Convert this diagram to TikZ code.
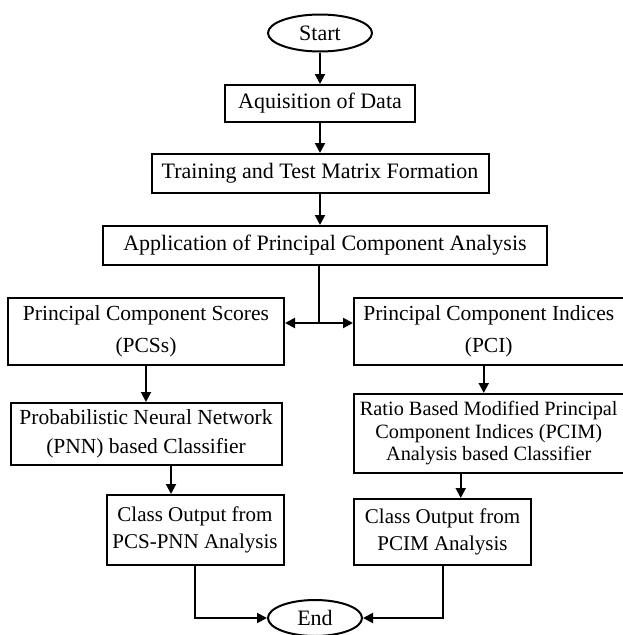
\documentclass[tikz,border=0pt]{standalone}
\usepackage{fontspec}
\setmainfont{Liberation Serif}
\usepackage{tikz}
\usetikzlibrary{shapes.geometric}
\usetikzlibrary{positioning}
\usetikzlibrary{arrows.meta}

\begin{document}
\begin{tikzpicture}[x=1pt, y=-1pt, node distance=30pt, auto,
        line width=2pt, >={Triangle[length=10pt,width=10pt]},
        box/.style={draw, align=center, inner sep=0pt, font=\fontsize{22}{28}\selectfont},
        terminal/.style={draw, ellipse, inner sep=0pt, font=\fontsize{22}{28}\selectfont}]
        \useasboundingbox (0,0) rectangle (623,635);

        \node[terminal, minimum width=104pt, minimum height=37pt] (start) at (320,33) {Start};
        \node[box, minimum width=190pt, minimum height=37pt] (acquisition) [below=31.5pt of start] {Aquisition of Data};
        \node[box, minimum width=337pt, minimum height=39pt] (matrix) [below=30pt of acquisition] {Training and Test Matrix Formation};
        \node[box, minimum width=444pt, minimum height=39pt] (pca) [below=31pt of matrix, xshift=5pt] {Application of Principal Component Analysis};

        \node[box, minimum width=276pt, minimum height=67pt, font=\fontsize{21.5}{28}\selectfont] (scores) [below=31pt of pca, xshift=-179pt] {Principal Component Scores \\[4pt] (PCSs)};
        \node[box, minimum width=269.5pt, minimum height=67pt, font=\fontsize{21.5}{28}\selectfont] (indices) [right=68pt of scores] {Principal Component Indices \\[4pt] (PCI)};

        \node[box, minimum width=271pt, minimum height=62pt, font=\fontsize{21.5}{29}\selectfont] (pnn) [below=36pt of scores] {Probabilistic Neural Network \\ (PNN) based Classifier};
        \node[box, minimum width=269.5pt, minimum height=79pt, font=\fontsize{20.3}{22.5}\selectfont] (pcim) [below=27pt of indices] {Ratio Based Modified Principal \\ Component Indices (PCIM) \\ Analysis based Classifier};

        \node[box, minimum width=177pt, minimum height=70pt, font=\fontsize{21}{27}\selectfont] (out_pnn) [below=28pt of pnn, xshift=49pt] {Class Output from \\ PCS-PNN Analysis};
        \node[box, minimum width=177pt, minimum height=66pt, font=\fontsize{21}{27}\selectfont] (out_pcim) [below=24pt of pcim.south west, anchor=north west] {Class Output from \\ PCIM Analysis};

        \node[terminal, minimum width=94pt, minimum height=36pt] (end) at (315,618) {End};

        \draw[->] (start) -- (acquisition);
        \draw[->] (acquisition) -- (matrix);
        \draw[->] (matrix) -- (matrix |- pca.north);

        \coordinate (split) at (319,323);
        \draw (pca.south -| split) -- (split);
        \draw[->] (split) -- (scores.east |- split);
        \draw[->] (split) -- (indices.west |- split);

        \draw[->] (scores) -- (scores |- pnn.north);
        \draw[->] ([xshift=-5pt]indices.south) -- ([xshift=-5pt]indices.south |- pcim.north);
        \draw[->] ([xshift=25pt]pnn.south) -- ([xshift=25pt]pnn.south |- out_pnn.north);
        \draw[->] ([xshift=-28pt]pcim.south) -- ([xshift=-28pt]pcim.south |- out_pcim.north);

        \draw[->] (out_pnn.south) |- (end.west);
        \draw[->] (out_pcim.south) |- (end.east);
    \end{tikzpicture}
\end{document}
